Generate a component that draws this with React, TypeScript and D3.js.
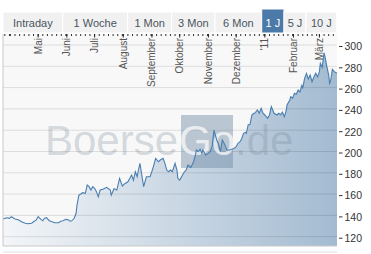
import React from 'react';
import * as d3 from 'd3';

const tabLabels = ['Intraday', '1 Woche', '1 Mon', '3 Mon', '6 Mon', '1 J', '5 J', '10 J'];
const selectedTab = '1 J';
const monthLabels = ['Mai', 'Juni', 'Juli', 'August', 'September', 'Oktober', 'November', 'Dezember', "'11", 'Februar', 'März'];
const monthStarts = ['2010-05-01', '2010-06-01', '2010-07-01', '2010-08-01', '2010-09-01', '2010-10-01', '2010-11-01', '2010-12-01', '2011-01-01', '2011-02-01', '2011-03-01'];
const yTicks = [120, 140, 160, 180, 200, 220, 240, 260, 280, 300];
const startDate = '2010-03-24';
const endDate = '2011-03-20';
// days since startDate
const dayOffsets = [0, 4, 7, 9, 13, 17, 20, 24, 27, 31, 33, 36, 38, 41, 43, 45, 47, 50, 53, 56, 60, 63, 65, 68, 71, 72, 74, 77, 79, 80, 82, 84, 86, 89, 91, 93, 95, 97, 99, 101, 103, 105, 108, 112, 116, 117, 120, 123, 126, 129, 132, 135, 139, 141, 143, 145, 146, 148, 150, 152, 155, 159, 162, 165, 168, 170, 173, 175, 177, 179, 181, 183, 186, 188, 189, 191, 193, 196, 198, 200, 203, 206, 208, 209, 211, 213, 215, 216, 219, 222, 224, 226, 228, 231, 233, 235, 237, 240, 242, 245, 249, 252, 254, 256, 258, 260, 262, 263, 265, 267, 269, 271, 272, 275, 277, 279, 281, 283, 286, 288, 290, 293, 296, 298, 300, 302, 304, 306, 307, 310, 311, 313, 315, 317, 319, 321, 323, 324, 326, 328, 330, 332, 334, 336, 338, 340, 342, 343, 345, 347, 348, 350, 352, 353, 354, 356, 358, 361];
const closes = [136.6, 137.8, 137.2, 138.8, 136.6, 135.7, 134, 132.6, 132.2, 132.6, 134, 135.7, 138.8, 136.3, 135, 137.3, 137.8, 135, 134, 133.1, 133.1, 134.7, 135, 136.3, 135.7, 134.7, 134.7, 137.3, 142, 149.8, 159, 160, 161.3, 160.7, 168.5, 167, 163.8, 167, 165.4, 162.3, 157.6, 163.8, 164.5, 166.4, 163.8, 159, 165, 163.8, 174.8, 167.6, 170, 171.6, 177.9, 173, 181, 176.3, 181, 188.9, 178, 167, 176.3, 176.3, 184.2, 193.6, 190.4, 192, 193.6, 188.9, 182.6, 181, 182.6, 181, 188.9, 182.6, 174.8, 173.2, 176.3, 181, 182.6, 187.3, 185, 190.4, 196.7, 201.4, 200, 202, 198.3, 201.4, 196.7, 198.3, 200, 205, 220, 210.8, 207, 199.8, 210.8, 206, 201.4, 201.4, 202.5, 204.5, 207.7, 209, 212, 217.1, 218, 217, 224.9, 225.5, 234.3, 235.9, 235.9, 239, 236, 240.6, 235.9, 234.3, 231.2, 234.3, 242.1, 235.9, 234.3, 235.9, 234.5, 237, 232.7, 238, 243.7, 248.4, 251.5, 250, 254.6, 253.7, 257.7, 256, 262, 260, 268.7, 273.4, 268, 271.8, 265.5, 270, 273.4, 270, 275, 282.8, 279, 292.7, 289, 280, 271.8, 264, 266, 277.2, 275, 273.4];

const W = 371;
const H = 254;
const L = 3;
const R = 337;
const T = 34;
const B = 246;
const tabEdges = [3, 62.7, 127.7, 171.7, 215, 261.7, 284, 306, 336.7];

export default function App() {
  const parse = d3.timeParse('%Y-%m-%d');
  const start = parse(startDate) as Date;
  const end = parse(endDate) as Date;
  const x = d3.scaleTime().domain([start, end]).range([L, R]);
  const y = d3.scaleLinear().domain([120, 300]).range([236.7, 45]);
  const data = dayOffsets.map((d, i) => ({ date: d3.timeDay.offset(start, d), v: closes[i] }));
  const area = d3.area<any>().x((d) => x(d.date)).y0(B).y1((d) => y(d.v));
  const line = d3.line<any>().x((d) => x(d.date)).y((d) => y(d.v));
  const minorTicks = d3.timeDay.every(5)!.range(start, end);
  const font = 'Liberation Sans, Arial, sans-serif';

  return (
    <svg width={W} height={H} style={{ position: 'absolute', left: 0, top: 0, background: '#fff' }} fontFamily={font}>
      <defs>
        <linearGradient id="fillGrad" gradientUnits="userSpaceOnUse" x1={L} x2={R} y1={0} y2={0}>
          <stop offset="0%" stopColor="#f4f6f8" />
          <stop offset="100%" stopColor="#a3bbd1" />
        </linearGradient>
      </defs>
      {/* tabs */}
      {tabLabels.map((t, i) => {
        const sel = t === selectedTab;
        const x0 = tabEdges[i];
        const x1 = tabEdges[i + 1];
        return (
          <g key={t}>
            <rect x={x0} y={sel ? 9 : 12} width={x1 - x0} height={sel ? 24 : 21} fill={sel ? '#4b7aa8' : '#f1f1f1'} stroke="#fff" strokeWidth={1} />
            <text x={(x0 + x1) / 2} y={26.5} textAnchor="middle" fontSize={11} fill={sel ? '#fff' : '#4a5560'}>{t}</text>
          </g>
        );
      })}
      {/* plot background */}
      <rect x={L} y={T} width={R - L} height={B - T} fill="#f8f8f8" />
      <path d={area(data) || ''} fill="url(#fillGrad)" />
      {/* gridlines */}
      {yTicks.map((t) => (
        <line key={t} x1={L} x2={R} y1={y(t)} y2={y(t)} stroke="#000" strokeOpacity={0.11} />
      ))}
      {/* watermark */}
      <g>
        <text x={45} y={155} fontSize={42} fill="#7a8a99" fillOpacity={0.3}>Boerse</text>
        <rect x={181} y={115} width={52} height={53} fill="#6f8aa3" fillOpacity={0.45} />
        <text x={207} y={155} fontSize={42} textAnchor="middle" fill="#fff" fillOpacity={0.7}>Go</text>
        <text x={235} y={155} fontSize={42} fill="#7a8a99" fillOpacity={0.3}>.de</text>
      </g>
      <path d={line(data) || ''} fill="none" stroke="#4a7eb0" strokeWidth={1.1} />
      {/* top tick row */}
      {minorTicks.map((d, i) => (
        <line key={'m' + i} x1={x(d)} x2={x(d)} y1={34} y2={36} stroke="#333" />
      ))}
      {monthStarts.map((m, i) => {
        const xx = x(parse(m) as Date);
        return (
          <g key={m}>
            <line x1={xx} x2={xx} y1={34} y2={37.5} stroke="#222" />
            <text transform={`translate(${xx + 3.5},38) rotate(-90)`} textAnchor="end" fontSize={10} fill="#555">{monthLabels[i]}</text>
          </g>
        );
      })}
      {/* borders */}
      <line x1={L} x2={L} y1={T} y2={B} stroke="#c8c8c8" />
      <line x1={L} x2={R} y1={B} y2={B} stroke="#c8c8c8" />
      <line x1={L} x2={R} y1={252} y2={252} stroke="#dddddd" />
      {/* y axis */}
      {yTicks.map((t) => (
        <g key={'y' + t}>
          <line x1={339} x2={342.5} y1={y(t) + 1.5} y2={y(t) + 1.5} stroke="#333" />
          <text x={344.5} y={y(t) + 5.3} fontSize={10.5} fill="#333">{t}</text>
        </g>
      ))}
    </svg>
  );
}
